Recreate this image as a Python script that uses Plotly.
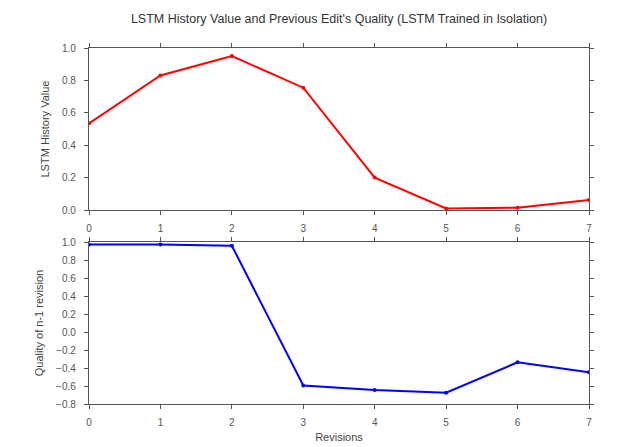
import plotly.graph_objects as go
from plotly.subplots import make_subplots

revisions = [0, 1, 2, 3, 4, 5, 6, 7]
lstm_history = [0.535, 0.83, 0.95, 0.755, 0.20, 0.01, 0.014, 0.062]
prev_quality = [0.972, 0.972, 0.958, -0.595, -0.645, -0.675, -0.337, -0.448]

# page body has an 8px margin, so the figure is drawn at (8, 8)
OFF = 8
W, H = 643 - OFF, 447 - OFF
L, T = 89 - OFF, 48 - OFF
PW, PH = 500, 356
R, B = W - L - PW, H - T - PH

fig = make_subplots(rows=2, cols=1, shared_xaxes=False, vertical_spacing=32 / 356)

fig.add_trace(go.Scatter(x=revisions, y=lstm_history, mode="lines+markers",
                         line=dict(color="#ff0000", width=2),
                         marker=dict(size=4, color="#ff0000"), showlegend=False), row=1, col=1)
fig.add_trace(go.Scatter(x=revisions, y=prev_quality, mode="lines+markers",
                         line=dict(color="#0000ff", width=2),
                         marker=dict(size=4, color="#0000ff"), showlegend=False), row=2, col=1)

axis_common = dict(showline=True, linecolor="#555555", linewidth=1.3, mirror="allticks",
                   ticks="outside", ticklen=4, tickcolor="#555555", tickwidth=1,
                   showgrid=False, zeroline=False,
                   tickfont=dict(family="Liberation Sans", size=10, color="#555555"))

fig.update_xaxes(range=[0, 7], tickmode="array", tickvals=revisions,
                 ticktext=[str(v) for v in revisions], ticklabelstandoff=5, **axis_common)
fig.update_xaxes(title=dict(text="Revisions", font=dict(family="Liberation Sans", size=11, color="#444444"),
                            standoff=6), row=2, col=1)
fig.update_yaxes(ticklabelstandoff=6, **axis_common)
fig.update_yaxes(range=[0, 1.0], tickvals=[0, 0.2, 0.4, 0.6, 0.8, 1.0], tickformat=".1f",
                 title=dict(text="LSTM History Value", font=dict(family="Liberation Sans", size=11, color="#444444"),
                            standoff=10), row=1, col=1)
fig.update_yaxes(range=[-0.8, 1.0], tickvals=[-0.8, -0.6, -0.4, -0.2, 0, 0.2, 0.4, 0.6, 0.8, 1.0],
                 tickformat=".1f",
                 title=dict(text="Quality of n-1 revision", font=dict(family="Liberation Sans", size=11, color="#444444"),
                            standoff=10), row=2, col=1)

fig.update_layout(
    width=W, height=H,
    margin=dict(l=L, r=R, t=T, b=B, autoexpand=False),
    paper_bgcolor="white", plot_bgcolor="white",
    title=dict(text="LSTM History Value and Previous Edit's Quality (LSTM Trained in Isolation)",
               x=(339 - OFF) / W, xanchor="center", y=1 - (19 - OFF) / H, yanchor="middle",
               font=dict(family="Liberation Sans", size=12.5, color="#333333")),
    font=dict(family="Liberation Sans"),
)

fig.write_html("out.html")
